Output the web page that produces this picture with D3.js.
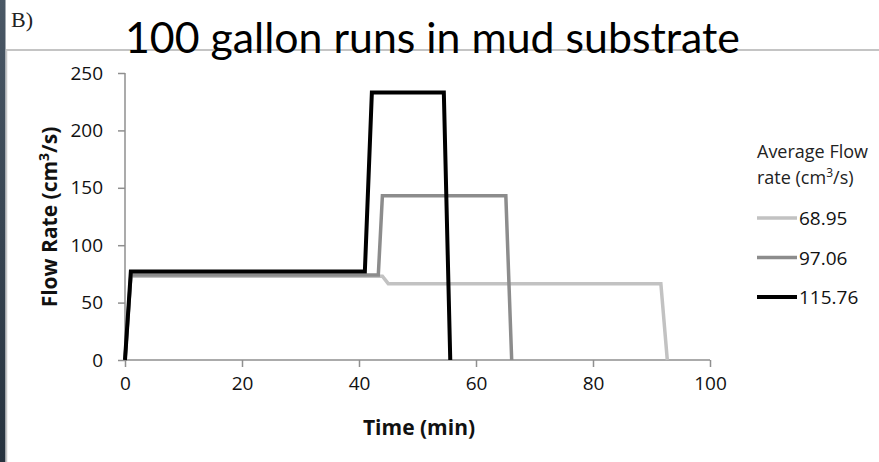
<!DOCTYPE html>
<html><head><meta charset="utf-8">
<script src="https://cdn.jsdelivr.net/npm/d3@7"></script>
<style>body{margin:0;background:#fff}svg{display:block}</style>
</head><body>
<script>
const titleText = "100 gallon runs in mud substrate";
const panelLabel = "B)";
const xTicks = [0, 20, 40, 60, 80, 100];
const yTicks = [0, 50, 100, 150, 200, 250];
const seriesNames = ["68.95", "97.06", "115.76"];
const seriesColors = ["#c2c2c2", "#8c8c8c", "#000000"];
const seriesWidths = [3.5, 3.5, 4];
const timeLight = [0, 1, 44, 45, 91.6, 92.7];
const flowLight = [0, 73, 73, 66.5, 66.5, 0];
const timeMid = [0, 1, 43.3, 44, 65.1, 66.1];
const flowMid = [0, 74, 74, 143, 143, 0];
const timeDark = [0, 1, 41, 42.2, 54.5, 55.6];
const flowDark = [0, 77, 77, 233, 233, 0];

const series = [
  {name: seriesNames[0], t: timeLight, v: flowLight, color: seriesColors[0], w: seriesWidths[0]},
  {name: seriesNames[1], t: timeMid, v: flowMid, color: seriesColors[1], w: seriesWidths[1]},
  {name: seriesNames[2], t: timeDark, v: flowDark, color: seriesColors[2], w: seriesWidths[2]}
];

const W = 879, H = 462;
const svg = d3.select("body").append("svg").attr("width", W).attr("height", H);
const defs = svg.append("defs");
const grad = defs.append("linearGradient").attr("id", "strip").attr("x1", 0).attr("y1", 0).attr("x2", 0).attr("y2", 1);
grad.append("stop").attr("offset", "0%").attr("stop-color", "#4a5866");
grad.append("stop").attr("offset", "100%").attr("stop-color", "#26323e");

svg.append("rect").attr("x", 0).attr("y", 0).attr("width", W).attr("height", H).attr("fill", "#fff");
svg.append("rect").attr("x", 0).attr("y", 0).attr("width", 5.5).attr("height", H).attr("fill", "url(#strip)");
// frame lines
svg.append("line").attr("x1", 6).attr("x2", W).attr("y1", 50).attr("y2", 50).attr("stroke", "#b0b0b0").attr("stroke-width", 1.5);
svg.append("line").attr("x1", 6.5).attr("x2", 6.5).attr("y1", 50).attr("y2", H).attr("stroke", "#c8c8c8").attr("stroke-width", 1.5);

svg.append("text").attr("x", 11).attr("y", 27).text(panelLabel)
  .attr("font-family", "Liberation Serif, serif").attr("font-size", 22).attr("fill", "#222")
  .attr("textLength", 22).attr("lengthAdjust", "spacingAndGlyphs");

svg.append("text").attr("x", 125).attr("y", 53).text(titleText)
  .attr("font-family", "Lato, sans-serif").attr("font-size", 42).attr("fill", "#000")
  .attr("textLength", 615).attr("lengthAdjust", "spacingAndGlyphs");

const x = d3.scaleLinear().domain([0, 100]).range([125, 710]);
const y = d3.scaleLinear().domain([0, 250]).range([360, 73]);

const axisColor = "#8f8f8f";
const gx = svg.append("g").attr("transform", "translate(0,360)")
  .call(d3.axisBottom(x).tickValues(xTicks).tickSize(7).tickPadding(10).tickFormat(d3.format("d")));
const gy = svg.append("g").attr("transform", "translate(125,0)")
  .call(d3.axisLeft(y).tickValues(yTicks).tickSize(7).tickPadding(15).tickFormat(d3.format("d")));
[gx, gy].forEach(g => {
  g.select(".domain").attr("stroke", axisColor).attr("stroke-width", 1.5);
  g.selectAll(".tick line").attr("stroke", axisColor).attr("stroke-width", 1.5);
  g.selectAll(".tick text").attr("font-family", "Open Sans, sans-serif").attr("font-size", 19).attr("fill", "#111");
});
gx.select(".domain").attr("d", "M125,0H710");
gy.select(".domain").attr("d", "M0,73V360");

const line = d3.line().x(d => x(d[0])).y(d => y(d[1]));
series.forEach(s => {
  const pts = s.t.map((t, i) => [t, s.v[i]]);
  svg.append("path").attr("d", line(pts)).attr("fill", "none")
    .attr("stroke", s.color).attr("stroke-width", s.w).attr("stroke-linejoin", "miter");
});

// axis titles
svg.append("text").attr("x", 419).attr("y", 435).attr("text-anchor", "middle")
  .attr("font-family", "Open Sans, sans-serif").attr("font-weight", "bold").attr("font-size", 21).attr("fill", "#111")
  .text("Time (min)");
const yl = svg.append("text").attr("transform", "translate(57,217) rotate(-90)").attr("text-anchor", "middle")
  .attr("font-family", "Open Sans, sans-serif").attr("font-weight", "bold").attr("font-size", 21).attr("fill", "#111");
yl.append("tspan").text("Flow Rate (cm");
yl.append("tspan").attr("dy", -8).attr("font-size", 14).text("3");
yl.append("tspan").attr("dy", 8).text("/s)");

// legend
const lg = svg.append("g");
lg.append("text").attr("x", 757).attr("y", 158).text("Average Flow")
  .attr("font-family", "Open Sans, sans-serif").attr("font-size", 18).attr("fill", "#222");
const l2 = lg.append("text").attr("x", 757).attr("y", 184)
  .attr("font-family", "Open Sans, sans-serif").attr("font-size", 18).attr("fill", "#222");
l2.append("tspan").text("rate (cm");
l2.append("tspan").attr("dy", -7).attr("font-size", 12).text("3");
l2.append("tspan").attr("dy", 7).text("/s)");
series.forEach((s, i) => {
  const cy = 218 + i * 39.5;
  lg.append("line").attr("x1", 757).attr("x2", 797).attr("y1", cy).attr("y2", cy)
    .attr("stroke", s.color).attr("stroke-width", s.w);
  lg.append("text").attr("x", 799).attr("y", cy + 7).text(s.name)
    .attr("font-family", "Open Sans, sans-serif").attr("font-size", 19).attr("fill", "#111");
});
</script>
</body></html>
